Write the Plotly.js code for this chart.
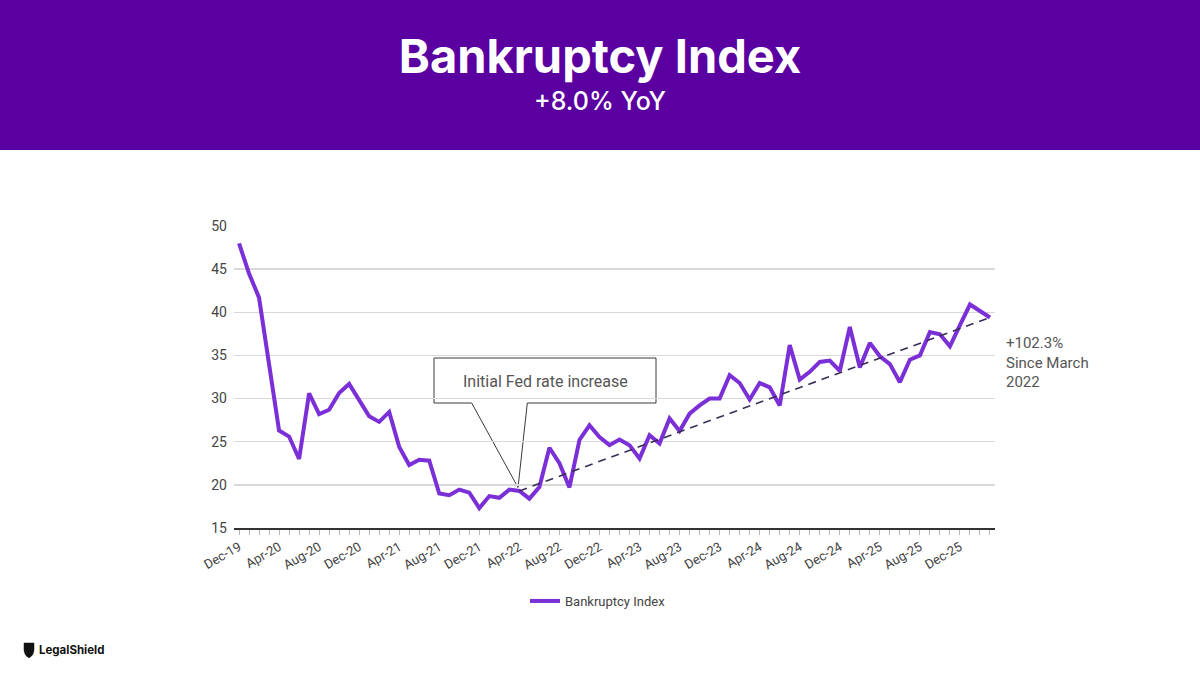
<!DOCTYPE html>
<html>
<head>
<meta charset="utf-8">
<script src="https://cdn.plot.ly/plotly-3.0.1.min.js"></script>
<style>
  html, body { margin: 0; padding: 0; background: #ffffff; }
  #chart { width: 1200px; height: 675px; }
</style>
</head>
<body>
<div id="chart"></div>
<script>
// ---- Data ----
const months = [
  "Dec-19","Jan-20","Feb-20","Mar-20","Apr-20","May-20","Jun-20","Jul-20","Aug-20","Sep-20","Oct-20","Nov-20",
  "Dec-20","Jan-21","Feb-21","Mar-21","Apr-21","May-21","Jun-21","Jul-21","Aug-21","Sep-21","Oct-21","Nov-21",
  "Dec-21","Jan-22","Feb-22","Mar-22","Apr-22","May-22","Jun-22","Jul-22","Aug-22","Sep-22","Oct-22","Nov-22",
  "Dec-22","Jan-23","Feb-23","Mar-23","Apr-23","May-23","Jun-23","Jul-23","Aug-23","Sep-23","Oct-23","Nov-23",
  "Dec-23","Jan-24","Feb-24","Mar-24","Apr-24","May-24","Jun-24","Jul-24","Aug-24","Sep-24","Oct-24","Nov-24",
  "Dec-24","Jan-25","Feb-25","Mar-25","Apr-25","May-25","Jun-25","Jul-25","Aug-25","Sep-25","Oct-25","Nov-25",
  "Dec-25","Jan-26","Feb-26","Mar-26"
];
const bankruptcyIndex = [
  48.0, 44.5, 41.7, 34.0, 26.3, 25.6, 23.0, 30.6, 28.2, 28.7, 30.65, 31.7,
  29.8, 27.95, 27.3, 28.45, 24.4, 22.3, 22.9, 22.8, 19.0, 18.8, 19.45, 19.1,
  17.3, 18.7, 18.5, 19.45, 19.3, 18.4, 19.75, 24.3, 22.5, 19.7, 25.2, 26.9,
  25.55, 24.6, 25.25, 24.6, 23.05, 25.75, 24.8, 27.7, 26.25, 28.25, 29.2, 30.0,
  30.0, 32.7, 31.8, 29.9, 31.8, 31.3, 29.2, 36.2, 32.2, 33.1, 34.25, 34.4,
  33.2, 38.3, 33.6, 36.45, 34.9, 34.0, 31.9, 34.5, 35.0, 37.7, 37.45, 36.05,
  38.5, 40.9, 40.15, 39.4
];
const tickLabels = ["Dec-19","Apr-20","Aug-20","Dec-20","Apr-21","Aug-21","Dec-21","Apr-22","Aug-22","Dec-22",
  "Apr-23","Aug-23","Dec-23","Apr-24","Aug-24","Dec-24","Apr-25","Aug-25","Dec-25"];
const trendX = ["Apr-22", "Mar-26"];
const trendY = [19.3, 39.4];
const yTicks = [15, 20, 25, 30, 35, 40, 45, 50];

// ---- Layout geometry helpers (pixels -> paper) ----
const W = 1200, H = 675;
const M = { l: 234, r: 205, t: 226, b: 147 };
const PW = W - M.l - M.r, PH = H - M.t - M.b;
const px = x => (x - M.l) / PW;
const py = y => (H - M.b - y) / PH;

const tickText = months.map(m => tickLabels.includes(m) ? m : "");

const traces = [
  {
    type: "scatter", mode: "lines", name: "Bankruptcy Index",
    x: months, y: bankruptcyIndex,
    line: { color: "#7B2FD6", width: 4, shape: "linear" },
    hoverinfo: "x+y"
  },
  {
    type: "scatter", mode: "lines", name: "Trend",
    x: trendX, y: trendY, showlegend: false,
    line: { color: "#3A2D58", width: 1.6, dash: "8px,6px" },
    hoverinfo: "skip"
  }
];

function pathOf(pts) {
  return pts.map((p, i) => (i === 0 ? "M " : "L ") + px(p[0]) + "," + py(p[1])).join(" ") + " Z";
}
const calloutPath = pathOf([[434, 358], [656, 358], [656, 403], [527.3, 403], [518, 487.5], [471.7, 403], [434, 403]]);

const shieldPath = "M " + px(24) + "," + py(643) + " L " + px(34) + "," + py(643) + " L " + px(34) + "," + py(650) +
  " Q " + px(34) + "," + py(655) + " " + px(29) + "," + py(658) +
  " Q " + px(24) + "," + py(655) + " " + px(24) + "," + py(650) + " Z";

const layout = {
  width: W, height: H,
  margin: M,
  paper_bgcolor: "#ffffff",
  plot_bgcolor: "#ffffff",
  font: { family: "Roboto, 'Open Sans', sans-serif", color: "#444" },
  title: {
    text: "<b>Bankruptcy Index</b>",
    font: { family: "Inter, Roboto, sans-serif", size: 47, color: "#ffffff" },
    x: 0.5, xref: "container", xanchor: "center",
    y: 1 - 57 / H, yref: "container", yanchor: "middle"
  },
  showlegend: true,
  legend: {
    orientation: "h", x: px(598), xanchor: "center", y: py(601), yanchor: "middle",
    font: { size: 13, color: "#444" }, itemwidth: 30
  },
  xaxis: {
    type: "category",
    range: [-0.5, months.length - 0.5],
    tickmode: "array", tickvals: months, ticktext: tickText,
    tickangle: -30,
    ticks: "outside", ticklen: 5, tickcolor: "#b5b5b5", tickwidth: 1,
    tickfont: { size: 13, color: "#444" },
    showgrid: false, zeroline: false,
    showline: true, linecolor: "#333", linewidth: 1.5,
    fixedrange: true
  },
  yaxis: {
    range: [15, 50],
    tickmode: "array", tickvals: yTicks,
    tickfont: { size: 14, color: "#444" },
    ticklabelstandoff: 6,
    showgrid: true, gridcolor: "#d9d9d9", gridwidth: 1.5,
    zeroline: false, showline: false, ticks: "",
    fixedrange: true
  },
  shapes: [
    { type: "rect", xref: "paper", yref: "paper", x0: px(-5), x1: px(W + 5), y0: py(150), y1: py(-5),
      fillcolor: "#5A00A0", line: { width: 0 }, layer: "below" },
    { type: "path", xref: "paper", yref: "paper", path: calloutPath,
      fillcolor: "#ffffff", line: { color: "#3a3a3a", width: 1 }, layer: "between" },
    { type: "path", xref: "paper", yref: "paper", path: shieldPath,
      fillcolor: "#111", line: { color: "#111", width: 0.5 }, layer: "above" }
  ],
  annotations: [
    { text: "+8.0% YoY", xref: "paper", yref: "paper", x: px(600), y: py(101),
      xanchor: "center", yanchor: "middle", showarrow: false,
      font: { family: "Inter, Roboto, sans-serif", size: 25, weight: 500, color: "#ffffff" } },
    { text: "Initial Fed rate increase", xref: "paper", yref: "paper", x: px(545), y: py(381),
      xanchor: "center", yanchor: "middle", showarrow: false,
      font: { size: 16, color: "#555" } },
    { text: "+102.3%<br>Since March<br>2022", xref: "paper", yref: "paper", x: px(1004), y: py(362),
      xanchor: "left", yanchor: "middle", align: "left", showarrow: false,
      font: { size: 15, color: "#555" } },
    { text: "<b>LegalShield</b>", xref: "paper", yref: "paper", x: px(37), y: py(650),
      xanchor: "left", yanchor: "middle", showarrow: false,
      font: { family: "Inter, Arial, sans-serif", size: 11.5, color: "#111" } }
  ]
};

Plotly.newPlot("chart", traces, layout, { displayModeBar: false, staticPlot: true });
</script>
</body>
</html>
